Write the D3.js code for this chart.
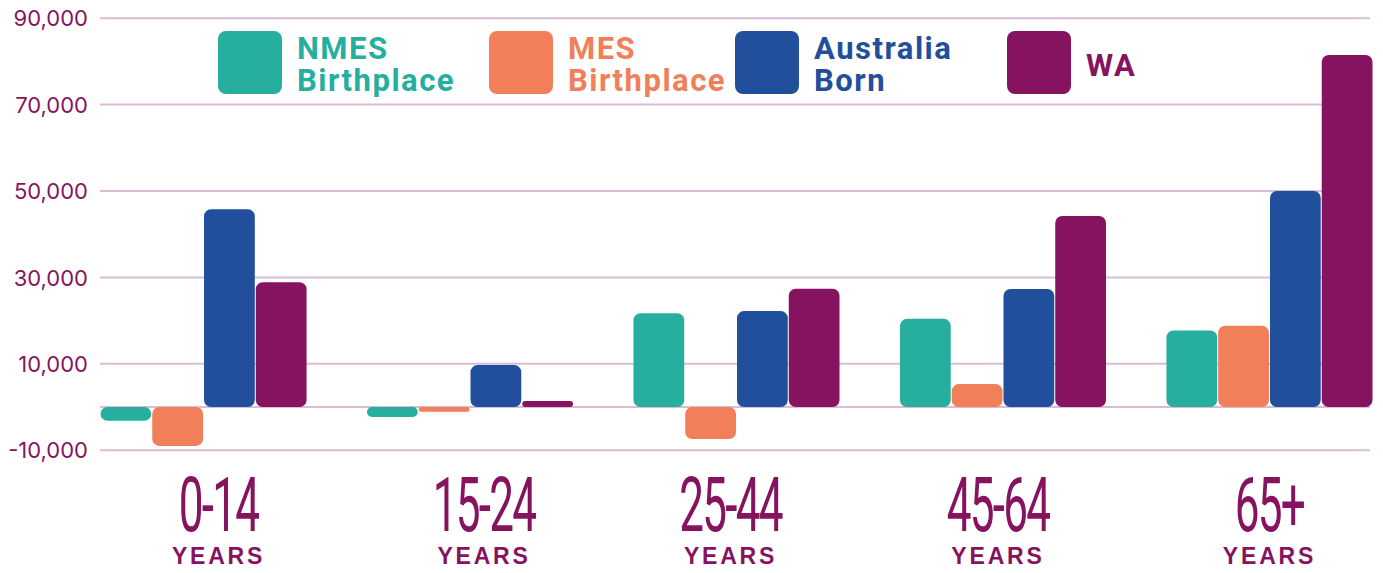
<!DOCTYPE html>
<html>
<head>
<meta charset="utf-8">
<script src="https://cdn.jsdelivr.net/npm/d3@7"></script>
<style>
  body { margin: 0; background: #fff; }
  svg { display: block; }
</style>
</head>
<body>
<svg id="chart"></svg>
<script>
// age groups and change in population by birthplace
var ageGroups = ["0-14", "15-24", "25-44", "45-64", "65+"];
var seriesNames = ["NMES Birthplace", "MES Birthplace", "Australia Born", "WA"];
var nmes      = [-3200, -2300, 21700, 20400, 17700];
var mes       = [-9000, -1100, -7400, 5300, 18800];
var ausBorn   = [45800, 9700, 22200, 27300, 50000];
var wa        = [28900, 1400, 27400, 44200, 81500];
var tickValues = [-10000, 10000, 30000, 50000, 70000, 90000];

var colors = ["#26ae9f", "#f07f5a", "#224f9b", "#86135f"];
var labelColor = "#86135f";
var gridColor = "#d9bcd5";

var width = 1383, height = 573;
var svg = d3.select("#chart").attr("width", width).attr("height", height);

var allSeries = [nmes, mes, ausBorn, wa];

var x = d3.scaleBand().domain(ageGroups).range([100, 1373]).paddingInner(0.223).paddingOuter(0);
var xInner = d3.scaleBand().domain(d3.range(seriesNames.length)).range([0, x.bandwidth()]);
var y = d3.scaleLinear().domain([-10000, 90000]).range([450.2, 18.2]);

// grid lines (labelled ticks plus the zero line)
var gridVals = tickValues.concat([0]);
svg.append("g").selectAll("line")
  .data(gridVals).enter().append("line")
  .attr("x1", 100).attr("x2", 1370)
  .attr("y1", function(d) { return y(d); })
  .attr("y2", function(d) { return y(d); })
  .attr("stroke", gridColor)
  .attr("stroke-width", 2);

// y axis labels
var fmt = d3.format(",");
var yAxis = d3.axisLeft(y).tickValues(tickValues)
  .tickFormat(function(d) { return fmt(d).replace("\u2212", "-"); })
  .tickSize(0).tickPadding(0);
var yg = svg.append("g").attr("transform", "translate(88,0)").call(yAxis);
yg.select(".domain").remove();
yg.selectAll("text")
  .attr("fill", labelColor)
  .style("font-family", "Inter, 'Noto Sans', sans-serif")
  .style("font-size", "22px")
  .attr("dy", "0.35em");

// bars
function barPath(x0, y0, w, h, r) {
  r = Math.min(r, h / 2, w / 2);
  return "M" + (x0 + r) + "," + y0 +
    "H" + (x0 + w - r) + "A" + r + "," + r + " 0 0 1 " + (x0 + w) + "," + (y0 + r) +
    "V" + (y0 + h - r) + "A" + r + "," + r + " 0 0 1 " + (x0 + w - r) + "," + (y0 + h) +
    "H" + (x0 + r) + "A" + r + "," + r + " 0 0 1 " + x0 + "," + (y0 + h - r) +
    "V" + (y0 + r) + "A" + r + "," + r + " 0 0 1 " + (x0 + r) + "," + y0 + "Z";
}

var barData = [];
ageGroups.forEach(function(g, i) {
  allSeries.forEach(function(s, j) {
    barData.push({ group: g, series: j, value: s[i] });
  });
});

svg.append("g").selectAll("path")
  .data(barData).enter().append("path")
  .attr("fill", function(d) { return colors[d.series]; })
  .attr("d", function(d) {
    var bx = x(d.group) + xInner(d.series) + 0.5;
    var bw = xInner.bandwidth() - 1;
    var top = y(Math.max(0, d.value));
    var h = Math.abs(y(d.value) - y(0));
    return barPath(bx, top, bw, h, 7);
  });

// category labels (slightly off the group centre, as in the original)
var labelShift = [15, 14, -6, -5, 0];
var cats = svg.append("g").selectAll("g")
  .data(ageGroups).enter().append("g")
  .attr("transform", function(d, i) { return "translate(" + (x(d) + x.bandwidth() / 2 + labelShift[i]) + ",0)"; });

cats.append("text")
  .attr("transform", "translate(0,531) scale(0.58,1)")
  .attr("text-anchor", "middle")
  .attr("fill", labelColor)
  .style("font-family", "Roboto, sans-serif")
  .style("font-size", "76px")
  .style("font-weight", 400)
  .style("letter-spacing", "-3px")
  .text(function(d) { return d; });

cats.append("text")
  .attr("y", 564)
  .attr("text-anchor", "middle")
  .attr("fill", labelColor)
  .style("font-family", "'Liberation Sans', Arial, sans-serif")
  .style("font-size", "23px")
  .style("font-weight", 700)
  .style("letter-spacing", "2.8px")
  .text("YEARS");

// legend
var legendX = [218, 489, 735, 1007];
var legendLines = [["NMES", "Birthplace"], ["MES", "Birthplace"], ["Australia", "Born"], ["WA"]];
var legend = svg.append("g").selectAll("g")
  .data(seriesNames).enter().append("g")
  .attr("transform", function(d, i) { return "translate(" + legendX[i] + ",31)"; });

legend.append("rect")
  .attr("width", 64).attr("height", 63)
  .attr("rx", 8).attr("ry", 8)
  .attr("fill", function(d, i) { return colors[i]; });

legend.append("text")
  .attr("x", 79)
  .attr("fill", function(d, i) { return colors[i]; })
  .style("font-family", "Roboto, sans-serif")
  .style("font-size", "31px")
  .style("font-weight", 700)
  .style("letter-spacing", "1.5px")
  .each(function(d, i) {
    var t = d3.select(this);
    var lines = legendLines[i];
    if (lines.length === 1) {
      t.append("tspan").attr("x", 79).attr("y", 45).text(lines[0]);
    } else {
      t.append("tspan").attr("x", 79).attr("y", 28).text(lines[0]);
      t.append("tspan").attr("x", 79).attr("y", 60).text(lines[1]);
    }
  });
</script>
</body>
</html>
